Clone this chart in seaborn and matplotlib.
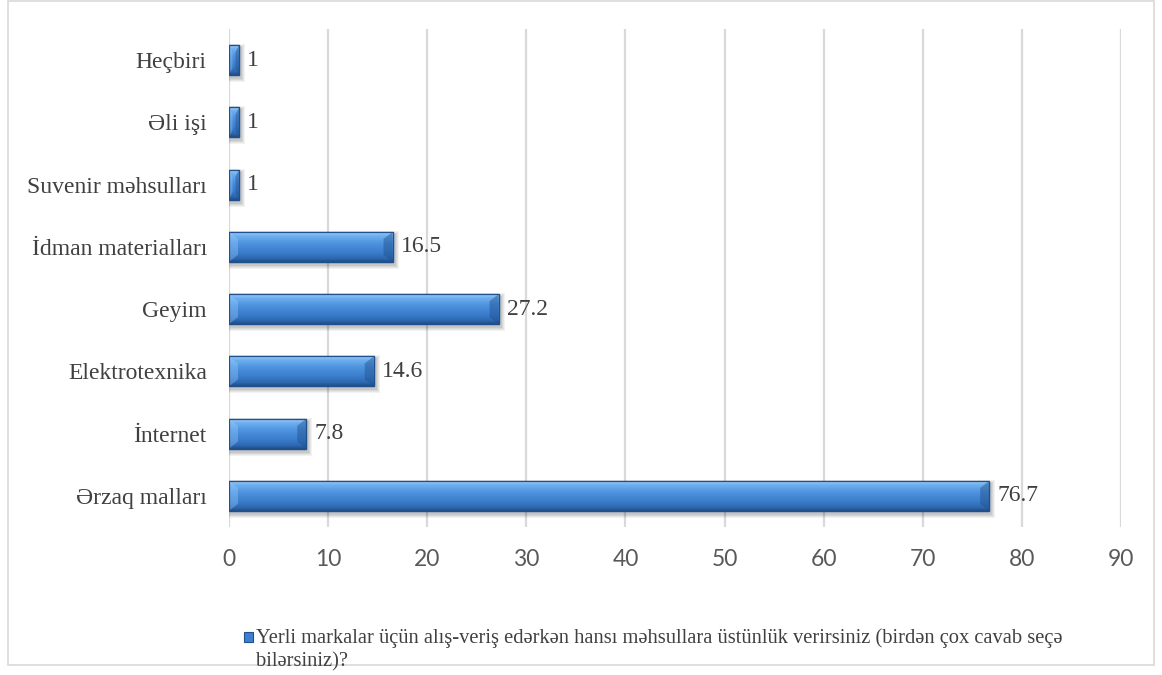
import numpy as np
import pandas as pd
import seaborn as sns
import matplotlib
matplotlib.use("Agg")
import matplotlib.pyplot as plt
from matplotlib.colors import LinearSegmentedColormap
from matplotlib.patches import Rectangle, Polygon

# Survey answers (percent of respondents)
categories = [
    "Heçbiri",
    "Əli işi",
    "Suvenir məhsulları",
    "İdman materialları",
    "Geyim",
    "Elektrotexnika",
    "İnternet",
    "Ərzaq malları",
]
values = [1, 1, 1, 16.5, 27.2, 14.6, 7.8, 76.7]
x_ticks = [0, 10, 20, 30, 40, 50, 60, 70, 80, 90]
series_label = ("Yerli markalar üçün alış-veriş edərkən hansı məhsullara üstünlük "
                "verirsiniz (birdən çox cavab seçə\nbilərsiniz)?")

df = pd.DataFrame({"category": categories, "value": values})

sns.set_theme(style="white")
plt.rcParams["font.family"] = ["Liberation Serif", "DejaVu Serif"]

W, H = 1162, 675
fig = plt.figure(figsize=(W / 100, H / 100), dpi=100)
ax_left, ax_right, ax_top, ax_bottom = 229, 1121, 29, 527
ax = fig.add_axes([ax_left / W, 1 - ax_bottom / H,
                   (ax_right - ax_left) / W, (ax_bottom - ax_top) / H])

base_blue = "#3d80d2"
edge_blue = "#21518c"
sns.barplot(data=df, x="value", y="category", orient="h", color=base_blue,
            saturation=1, width=0.48, edgecolor=edge_blue, linewidth=0.9,
            ax=ax, zorder=3)

ax.set_xlim(0, 90)
ylim = ax.get_ylim()

# data units per pixel
ux = 90 / (ax_right - ax_left)
uy = (ylim[0] - ylim[1]) / (ax_bottom - ax_top)

grad = LinearSegmentedColormap.from_list(
    "bar_grad",
    [(0.0, "#9ccbf6"), (0.12, "#6fb0ee"), (0.35, "#4f95e0"),
     (0.7, "#3a7ccb"), (0.9, "#2c66ad"), (1.0, "#1f4d85")])
gimg = np.linspace(0, 1, 64).reshape(-1, 1)

for p in list(ax.patches):
    x0, y0, w, h = p.get_x(), p.get_y(), p.get_width(), p.get_height()
    x1, y1 = x0 + w, y0 + h
    # soft drop shadow
    for k, a in enumerate([0.05, 0.05, 0.06, 0.07]):
        grow = (4 - k) * 1.0
        ax.add_patch(Rectangle((x0 + (2 - grow) * ux, y0 + (3 - grow) * uy),
                               w + 2 * grow * ux, h + 2 * grow * uy,
                               facecolor="#000000", alpha=a, lw=0, zorder=2))
    # vertical gradient fill
    im = ax.imshow(gimg, cmap=grad, aspect="auto", extent=(x0, x1, y1, y0),
                   zorder=3.5, interpolation="bilinear")
    im.set_clip_path(p)
    # bevel facets at the ends
    bx = min(9 * ux, w * 0.35)
    by = 7 * uy
    ax.add_patch(Polygon([(x1, y0), (x1 - bx, y0 + by), (x1 - bx, y1 - by), (x1, y1)],
                         closed=True, facecolor="#1f4f8c", alpha=0.45, lw=0, zorder=3.6))
    ax.add_patch(Polygon([(x0, y0), (x0 + bx, y0 + by), (x0 + bx, y1 - by), (x0, y1)],
                         closed=True, facecolor="#9fd0ff", alpha=0.35, lw=0, zorder=3.6))
    ax.add_patch(Rectangle((x0, y0), w, h, facecolor="none", edgecolor=edge_blue,
                           lw=0.9, zorder=3.8))

ax.set_ylim(ylim)

# value labels
for p, v in zip(ax.patches[:len(values)], values):
    ax.annotate(f"{v:g}", xy=(p.get_x() + p.get_width(), p.get_y() + p.get_height() / 2),
                xytext=(6, 0), textcoords="offset points", ha="left", va="center",
                fontsize=17, color="#404040", family=["Liberation Serif"], zorder=5)

# axes styling
ax.set_xticks(x_ticks)
ax.xaxis.grid(True, color="#d9d9d9", linewidth=1.6)
ax.yaxis.grid(False)
ax.set_axisbelow(True)
for s in ax.spines.values():
    s.set_visible(False)
ax.tick_params(axis="x", length=0, pad=16, labelsize=16.5, labelcolor="#595959")
ax.tick_params(axis="y", length=0, pad=16, labelsize=17, labelcolor="#404040")
for t in ax.get_xticklabels():
    t.set_family(["Lato", "DejaVu Sans"])
ax.set_xlabel("")
ax.set_ylabel("")

# legend (key + wrapped caption)
fig.patches.append(Rectangle((244 / W, 1 - 642 / H), 9 / W, 10 / H,
                             transform=fig.transFigure, facecolor=base_blue,
                             edgecolor=edge_blue, lw=0.8))
fig.text(256 / W, 1 - 628 / H, series_label, ha="left", va="top",
         fontsize=14.8, color="#404040", linespacing=1.32)

# chart border
fig.patches.append(Rectangle((8 / W, 1 - 665 / H), 1146 / W, 664 / H,
                             transform=fig.transFigure, facecolor="none",
                             edgecolor="#d9d9d9", lw=1.2))

fig.savefig("out.png", dpi=100)
